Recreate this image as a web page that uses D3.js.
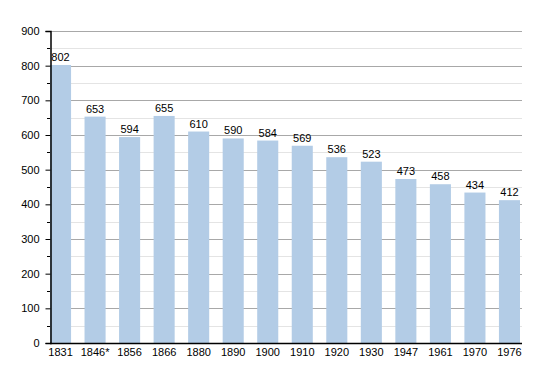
<!DOCTYPE html>
<html>
<head>
<meta charset="utf-8">
<title>Population</title>
<style>
  body { margin: 0; background: #fff; }
  text { font-family: "Liberation Sans", Arial, sans-serif; font-size: 11px; fill: #000; }
</style>
<script src="https://d3js.org/d3.v7.min.js"></script>
</head>
<body>
<script>
// census years and population
var years = ["1831", "1846*", "1856", "1866", "1880", "1890", "1900", "1910", "1920", "1930", "1947", "1961", "1970", "1976"];
var population = [802, 653, 594, 655, 610, 590, 584, 569, 536, 523, 473, 458, 434, 412];
var yTicks = [0, 100, 200, 300, 400, 500, 600, 700, 800, 900];

var width = 550, height = 373;
var plotLeft = 50, plotRight = 520, plotTop = 31, plotBottom = 343;

var svg = d3.select("body").append("svg")
    .attr("width", width)
    .attr("height", height);

var x = d3.scaleBand()
    .domain(years)
    .range([plotLeft, plotRight])
    .paddingInner(0.39)
    .paddingOuter(0);

var y = d3.scaleLinear()
    .domain([0, 900])
    .range([plotBottom, plotTop]);

// minor grid (every 50)
svg.append("g").selectAll("line")
    .data(d3.range(50, 900, 100))
    .enter().append("line")
    .attr("x1", plotLeft).attr("x2", plotRight + 2)
    .attr("y1", function(d) { return Math.round(y(d)) + 0.5; })
    .attr("y2", function(d) { return Math.round(y(d)) + 0.5; })
    .attr("stroke", "#e4e4e4");

// major grid
svg.append("g").selectAll("line")
    .data(yTicks.slice(1))
    .enter().append("line")
    .attr("x1", plotLeft).attr("x2", plotRight + 2)
    .attr("y1", function(d) { return Math.round(y(d)) + 0.5; })
    .attr("y2", function(d) { return Math.round(y(d)) + 0.5; })
    .attr("stroke", "#a8a8a8");

// bars
svg.append("g").selectAll("rect")
    .data(population)
    .enter().append("rect")
    .attr("x", function(d, i) { return x(years[i]); })
    .attr("y", function(d) { return y(d); })
    .attr("width", x.bandwidth())
    .attr("height", function(d) { return plotBottom - y(d); })
    .attr("fill", "#b3cce6");

// value labels
svg.append("g").selectAll("text")
    .data(population)
    .enter().append("text")
    .attr("x", function(d, i) { return x(years[i]) + x.bandwidth() / 2; })
    .attr("y", function(d) { return y(d) - 4; })
    .attr("text-anchor", "middle")
    .text(function(d) { return d; });

// y axis
var yAxis = d3.axisLeft(y).tickValues(yTicks).tickSize(5).tickPadding(6);
var ya = svg.append("g")
    .attr("transform", "translate(" + (plotLeft + 0.5) + ",0)")
    .call(yAxis);
ya.select(".domain").attr("stroke", "#000").attr("stroke-width", 1.5);
ya.selectAll(".tick text").style("font-size", "11px").style("font-family", "Liberation Sans, Arial, sans-serif");

// minor ticks
svg.append("g").selectAll("line")
    .data(d3.range(50, 900, 100))
    .enter().append("line")
    .attr("x1", plotLeft - 3).attr("x2", plotLeft)
    .attr("y1", function(d) { return Math.round(y(d)) + 0.5; })
    .attr("y2", function(d) { return Math.round(y(d)) + 0.5; })
    .attr("stroke", "#000");

// x axis
var xAxis = d3.axisBottom(x).tickSize(0).tickPadding(5);
var xa = svg.append("g")
    .attr("transform", "translate(0," + (plotBottom + 0.5) + ")")
    .call(xAxis);
xa.select(".domain").attr("stroke", "#000").attr("stroke-width", 1.5)
    .attr("d", "M" + plotLeft + ",0H" + (plotRight + 2));
xa.selectAll(".tick text").style("font-size", "11px").style("font-family", "Liberation Sans, Arial, sans-serif");
</script>
</body>
</html>
